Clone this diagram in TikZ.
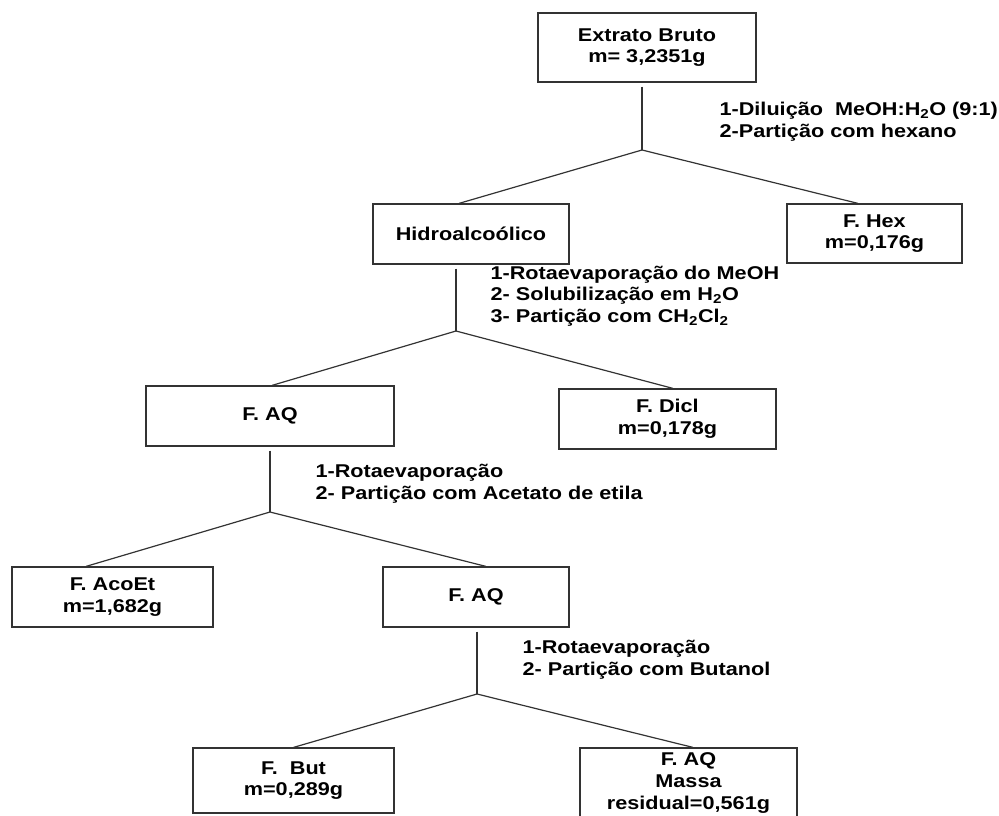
\documentclass[tikz,border=0pt]{standalone}
\usepackage{fontspec}
\setmainfont{Liberation Sans}[FakeStretch=1.17]
\usepackage{tikz}

\begin{document}
\begin{tikzpicture}[x=1pt,y=-1pt,line width=1.2pt,draw=black!80,
    box/.style={draw=black!80,rectangle,align=center,inner sep=0pt},
    lab/.style={anchor=west,align=left,inner sep=0pt},
    font=\bfseries\fontsize{18.5}{21.7}\selectfont]
    \useasboundingbox (0,0) rectangle (999,816);

    %boxes
    \node[box,minimum width=218pt,minimum height=69pt] (ext) at (647,47.5) {Extrato Bruto\\m= 3,2351g};
    \node[box,minimum width=196pt,minimum height=60pt] (hidro) at (471,234) {Hidroalco\'olico};
    \node[box,minimum width=175pt,minimum height=59pt] (hex) at (874.5,233.5) {F. Hex\\m=0,176g};
    \node[box,minimum width=248pt,minimum height=60pt] (aq_1) at (270,416) {F. AQ};
    \node[box,minimum width=217pt,minimum height=60pt] (dicl) at (667.5,419) {F. Dicl\\m=0,178g};
    \node[box,minimum width=201pt,minimum height=60pt] (acoet) at (112.5,597) {F. AcoEt\\m=1,682g};
    \node[box,minimum width=186pt,minimum height=60pt] (aq_2) at (476,597) {F. AQ};
    \node[box,minimum width=201pt,minimum height=65pt] (but) at (293.5,780.5) {F.\ \ But\\m=0,289g};
    \node[box,minimum width=217pt,minimum height=70pt] (aq_3) at (688.5,783) {F. AQ\\Massa\\residual=0,561g};

    %branch points
    \coordinate (b_1) at (642,150);
    \coordinate (b_2) at (456,331);
    \coordinate (b_3) at (270,512);
    \coordinate (b_4) at (477,694);

    %steps
    \node[lab] (step_1) at (719,121.5) {1-Dilui\c{c}\~ao\ \ MeOH:H\textsubscript{2}O (9:1)\\2-Parti\c{c}\~ao com hexano};
    \node[lab] (step_2) at (490,296) {1-Rotaevapora\c{c}\~ao do MeOH\\2- Solubiliza\c{c}\~ao em H\textsubscript{2}O\\3- Parti\c{c}\~ao com CH\textsubscript{2}Cl\textsubscript{2}};
    \node[lab] (step_3) at (315,484) {1-Rotaevapora\c{c}\~ao\\2- Parti\c{c}\~ao com Acetato de etila};
    \node[lab] (step_4) at (522,660) {1-Rotaevapora\c{c}\~ao\\2- Parti\c{c}\~ao com Butanol};

    %extrato -> hidro, hex
    \draw[shorten <=4pt] (ext.south -| b_1) -- (b_1);
    \draw (b_1) -- ([xshift=-12pt]hidro.north);
    \draw (b_1) -- ([xshift=-16.5pt]hex.north);

    %hidro -> aq, dicl
    \draw[shorten <=4pt] (hidro.south -| b_2) -- (b_2);
    \draw (b_2) -- ([xshift=2pt]aq_1.north);
    \draw (b_2) -- ([xshift=5.5pt]dicl.north);

    %aq -> acoet, aq
    \draw[shorten <=4pt] (aq_1.south -| b_3) -- (b_3);
    \draw (b_3) -- ([xshift=-26.5pt]acoet.north);
    \draw (b_3) -- ([xshift=10pt]aq_2.north);

    %aq -> but, aq
    \draw[shorten <=4pt] (aq_2.south -| b_4) -- (b_4);
    \draw (b_4) -- (but.north);
    \draw (b_4) -- ([xshift=4.5pt]aq_3.north);
\end{tikzpicture}
\end{document}
